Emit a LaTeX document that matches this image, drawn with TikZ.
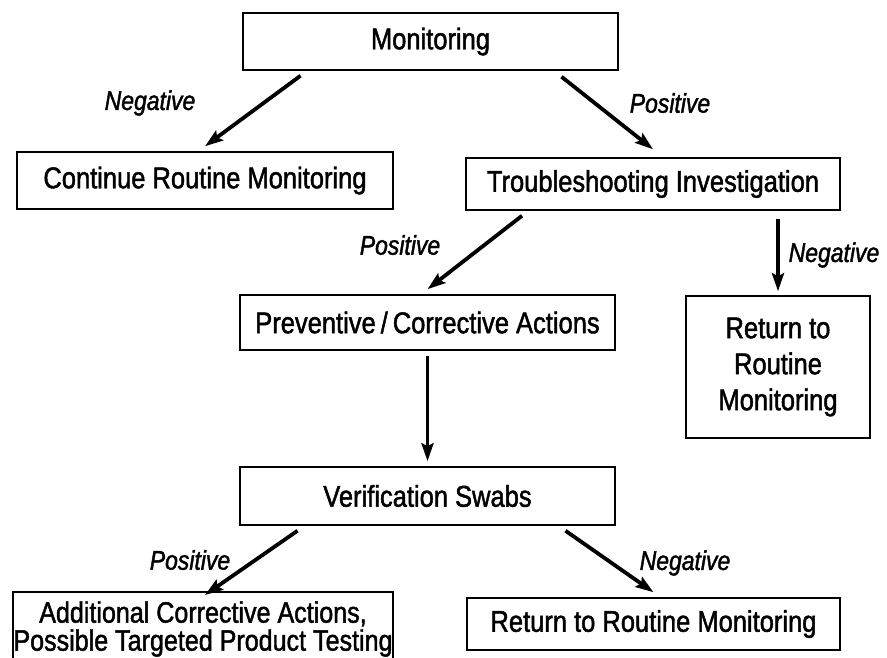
\documentclass[tikz,border=0pt]{standalone}
\usepackage{fontspec}
\setmainfont{Liberation Sans}[FakeStretch=0.85,FakeBold=1.5]
\usetikzlibrary{arrows.meta}
\begin{document}
\begin{tikzpicture}[x=1pt,y=-1pt,
  box/.style={draw, line width=1.5pt, inner sep=0pt, align=center, font=\fontsize{30}{36}\selectfont},
  plain/.style={inner sep=0pt, align=center, font=\fontsize{29.5}{28}\selectfont},
  arr/.style={line width=3.8pt, -{Stealth[length=18pt,width=12pt,inset=3pt]}},
  lbl/.style={inner sep=0pt, font=\fontsize{27}{30}\selectfont\itshape}]
\useasboundingbox (0,0) rectangle (887,658);
\node[box, minimum width=375, minimum height=57] (mon) at (430.5,41.5) {Monitoring};
\node[box, minimum width=376, minimum height=57] (cont) at (205,180.5) {Continue Routine Monitoring};
\node[box, minimum width=374, minimum height=52] (trb) at (653,184) {Troubleshooting Investigation};
\node[box, minimum width=375, minimum height=55] (prev) at (427.5,322.5) {Preventive\,/\,Corrective Actions};
\node[box, minimum width=184, minimum height=142] (ret1) at (778,367) {Return to\\Routine\\Monitoring};
\node[box, minimum width=375, minimum height=58] (ver) at (427.5,496) {Verification Swabs};
\node[plain] (add) at (203,629) {Additional Corrective Actions,\\Possible Targeted Product Testing};
\draw[line width=1.5pt] (13,670) |- (393,592) -- (393,670);
\coordinate (addtop) at (205,595);
\node[box, minimum width=373, minimum height=52] (ret2) at (653.5,624) {Return to Routine Monitoring};

\draw[arr] ([xshift=-130pt,yshift=-5pt]mon.south) -- ([yshift=5pt]cont.north);
\draw[arr] ([xshift=131pt,yshift=-6pt]mon.south) -- ([yshift=8pt]trb.north);
\draw[arr] ([xshift=-131pt,yshift=-5pt]trb.south) -- ([yshift=5pt]prev.north);
\draw[arr] ([xshift=125pt,yshift=-8pt]trb.south) -- ([yshift=4pt]ret1.north);
\draw[arr] ([yshift=-5pt]prev.south) -- ([yshift=5pt]ver.north);
\draw[arr] ([xshift=-130pt,yshift=-5pt]ver.south) -- (addtop);
\draw[arr] ([xshift=138pt,yshift=-5pt]ver.south) -- ([yshift=5pt]ret2.north);

\node[lbl] (l1) at (150,103) {Negative};
\node[lbl] (l2) at (670,103) {Positive};
\node[lbl] (l3) at (400,245) {Positive};
\node[lbl] (l4) at (834,255) {Negative};
\node[lbl] (l5) at (190,560) {Positive};
\node[lbl] (l6) at (685,563) {Negative};
\end{tikzpicture}
\end{document}
